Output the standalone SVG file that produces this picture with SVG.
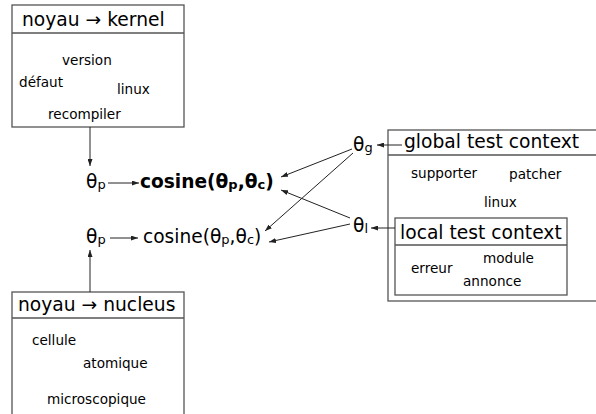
<svg xmlns="http://www.w3.org/2000/svg" width="596" height="414" viewBox="0 0 596 414">
<style>
text{font-family:"DejaVu Sans",sans-serif;fill:#000}
.t{font-size:18.7px}
.w{font-size:13.6px}
.m{font-size:18.6px}
.b{font-weight:bold}
.box{fill:#fff;stroke:#555;stroke-width:1.3}
.hl{stroke:#555;stroke-width:1.3}
.c{stroke:#222;stroke-width:1;fill:none;marker-end:url(#ah)}
</style>
<defs>
<marker id="ah" viewBox="0 0 7 5" refX="7" refY="2.5" markerWidth="7" markerHeight="5" markerUnits="userSpaceOnUse" orient="auto">
<path d="M0,0 L7,2.5 L0,5 z" fill="#222"/>
</marker>
</defs>
<rect width="596" height="414" fill="#fff"/>
<g id="kernel">
<rect class="box" x="12" y="5" width="172" height="122"/>
<line class="hl" x1="12" y1="33" x2="184" y2="33"/>
<text class="t" x="22" y="26">noyau → kernel</text>
<text class="w" x="62" y="65">version</text>
<text class="w" x="19" y="87">défaut</text>
<text class="w" x="117" y="94">linux</text>
<text class="w" x="48" y="119">recompiler</text>
</g>
<g id="nucleus">
<rect class="box" x="12" y="292" width="172" height="130"/>
<line class="hl" x1="12" y1="318" x2="184" y2="318"/>
<text class="t" x="18" y="311">noyau → nucleus</text>
<text class="w" x="32" y="345">cellule</text>
<text class="w" x="83" y="368">atomique</text>
<text class="w" x="47" y="404">microscopique</text>
</g>
<g id="global">
<rect class="box" x="388" y="130" width="220" height="171"/>
<line class="hl" x1="388" y1="155" x2="608" y2="155"/>
<text class="t" x="404" y="148">global test context</text>
<text class="w" x="411" y="178">supporter</text>
<text class="w" x="509" y="179">patcher</text>
<text class="w" x="484" y="207">linux</text>
</g>
<g id="local">
<rect class="box" x="395" y="218" width="172" height="77"/>
<line class="hl" x1="395" y1="245" x2="567" y2="245"/>
<text class="t" x="400" y="239">local test context</text>
<text class="w" x="411" y="273">erreur</text>
<text class="w" x="483" y="263">module</text>
<text class="w" x="463" y="286">annonce</text>
</g>
<g id="theta-p1"><text class="m" x="86" y="188">θ<tspan font-size="13" dy="1">p</tspan></text></g>
<g id="theta-p2"><text class="m" x="86" y="243">θ<tspan font-size="13" dy="1">p</tspan></text></g>
<g id="cos1"><text class="m b" x="140" y="188">cosine(θ<tspan font-size="13" dy="1">p</tspan><tspan dy="-1">,θ</tspan><tspan font-size="13" dy="1">c</tspan><tspan dy="-1">)</tspan></text></g>
<g id="cos2"><text class="m" x="143" y="243">cosine(θ<tspan font-size="13" dy="1">p</tspan><tspan dy="-1">,θ</tspan><tspan font-size="13" dy="1">c</tspan><tspan dy="-1">)</tspan></text></g>
<g id="theta-g"><text class="m" x="353" y="151">θ<tspan font-size="13" dy="1">g</tspan></text></g>
<g id="theta-l"><text class="m" x="353" y="232">θ<tspan font-size="13" dy="1">l</tspan></text></g>
<g id="connectors">
<line class="c" x1="90" y1="127" x2="90" y2="166"/>
<line class="c" x1="90" y1="292" x2="90" y2="250"/>
<line class="c" x1="108" y1="183" x2="139" y2="183"/>
<line class="c" x1="110" y1="238" x2="138" y2="238"/>
<line class="c" x1="402" y1="145" x2="377" y2="145"/>
<line class="c" x1="395" y1="228" x2="371" y2="228"/>
<line class="c" x1="352" y1="149" x2="281" y2="177"/>
<line class="c" x1="353" y1="153" x2="265" y2="231"/>
<line class="c" x1="350" y1="218" x2="281" y2="190"/>
<line class="c" x1="350" y1="224" x2="269" y2="242"/>
</g>
</svg>
